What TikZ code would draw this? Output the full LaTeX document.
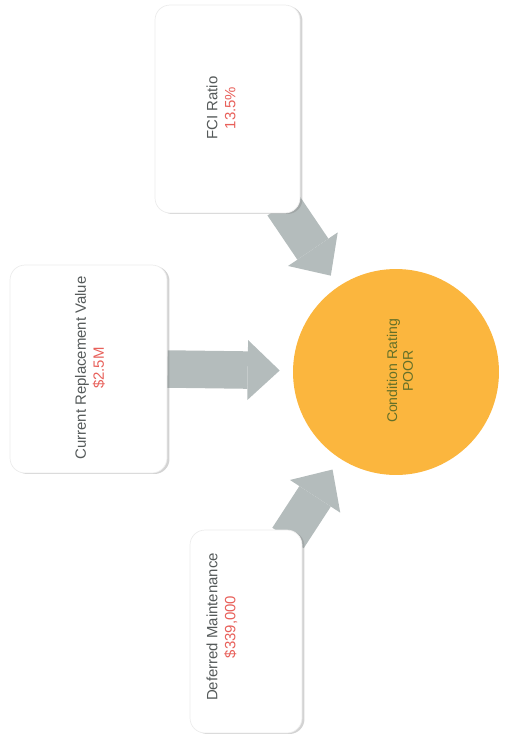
\documentclass[tikz,border=0pt]{standalone}
\usepackage{fontspec}
\setmainfont{Liberation Sans}
\usepackage{xcolor}
\usetikzlibrary{arrows.meta,shadows,backgrounds}
\definecolor{arrowgray}{RGB}{180,188,188}
\definecolor{ratingorange}{RGB}{251,182,62}
\definecolor{valuered}{RGB}{232,96,90}
\definecolor{titlegray}{RGB}{85,90,90}
\definecolor{ratinggreen}{RGB}{100,112,40}

\begin{document}
\begin{tikzpicture}[x=0.02cm, y=-0.02cm,
		card/.style={draw=gray!15, fill=white, rounded corners=0.3cm, drop shadow={shadow xshift=0.05cm, shadow yshift=-0.02cm, opacity=0.35}},
		cardtext/.style={rotate=90, align=center, inner sep=0pt, text=titlegray, font=\fontsize{8.5}{10.2}\selectfont},
		rating/.style={circle, fill=ratingorange, minimum size=4.12cm, inner sep=0pt},
		blockarrow/.style={draw=arrowgray, line width=0.75cm, shorten >=0.26cm, -{Triangle[width=1.2cm, length=0.64cm, line width=0pt]}}]
			\useasboundingbox (0,0) rectangle (505,741);
			\node[card, minimum width=2.9cm, minimum height=4.16cm] (fci) at (227.5,109) {};
			\node[card, minimum width=3.14cm, minimum height=4.16cm] (crv) at (88.5,369) {};
			\node[card, minimum width=2.24cm, minimum height=4.06cm] (dm) at (246,631.5) {};
			\node[rating] (cond) at (396,372) {};
			\coordinate (fcistart) at (283,205);
			\coordinate (dmstart) at (288,538);
			\begin{scope}[on background layer]
				\draw[blockarrow] (fcistart) -- (cond);
				\draw[blockarrow] (crv.east) -- (cond);
				\draw[blockarrow] (dmstart) -- (cond);
			\end{scope}
			\node[cardtext] (fcilbl) at (221,108) {FCI Ratio\\\textcolor{valuered}{13.5\%}};
			\node[cardtext] (crvlbl) at (90,368) {Current Replacement Value\\\textcolor{valuered}{\$2.5M}};
			\node[cardtext] (dmlbl) at (222,627) {Deferred Maintenance\\\textcolor{valuered}{\$339,000}};
			\node[cardtext, text=ratinggreen, font=\fontsize{8}{9}\selectfont] (condlbl) at (400,371) {Condition Rating\\POOR};
		\end{tikzpicture}
\end{document}
